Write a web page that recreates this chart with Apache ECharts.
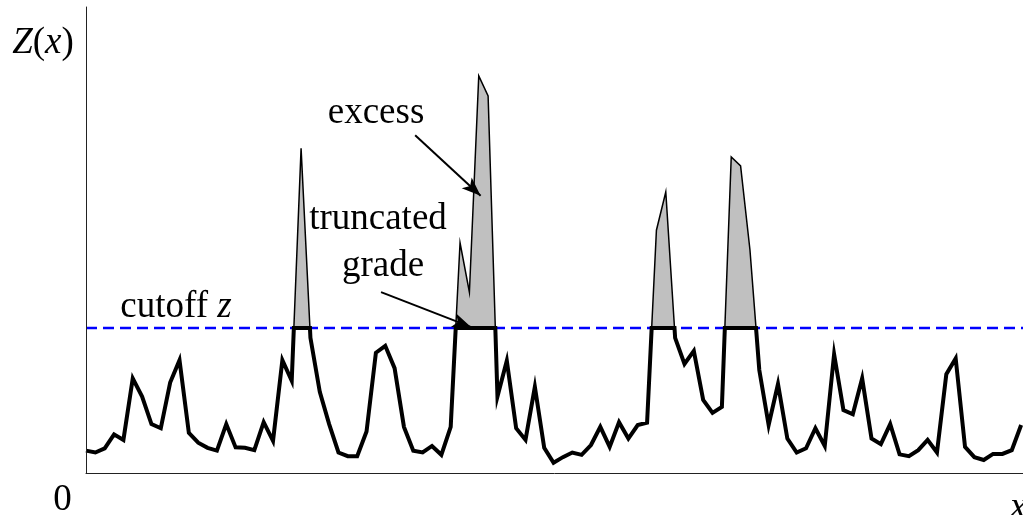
<!DOCTYPE html>
<html>
<head>
<meta charset="utf-8">
<script src="https://cdn.jsdelivr.net/npm/echarts@6/dist/echarts.min.js"></script>
<style>
html,body{margin:0;padding:0;background:#fff;}
#chart{width:1023px;height:515px;}
</style>
</head>
<body>
<div id="chart"></div>
<script>
// Grade values Z(x) at evenly spaced sample positions x = 0..100
const grades = [
  0.48, 0.44, 0.53, 0.83, 0.71, 2.03, 1.64, 1.05, 0.96, 1.94,
  2.42, 0.86, 0.65, 0.54, 0.48, 1.05, 0.55, 0.54, 0.49, 1.09,
  0.69, 2.42, 1.98, 6.97, 2.90, 1.74, 1.05, 0.44, 0.36, 0.36,
  0.89, 2.58, 2.73, 2.25, 0.99, 0.48, 0.44, 0.58, 0.39, 0.99,
  4.94, 3.88, 8.52, 8.09, 1.64, 2.41, 0.96, 0.71, 1.85, 0.54,
  0.22, 0.34, 0.44, 0.39, 0.60, 0.99, 0.56, 1.09, 0.74, 1.03,
  1.08, 5.21, 6.03, 2.90, 2.34, 2.62, 1.57, 1.29, 1.42, 6.78,
  6.59, 4.79, 2.21, 1.03, 1.91, 0.74, 0.44, 0.53, 0.96, 0.58,
  2.55, 1.35, 1.26, 2.03, 0.74, 0.62, 1.05, 0.40, 0.36, 0.49,
  0.71, 0.44, 2.12, 2.46, 0.56, 0.34, 0.28, 0.41, 0.41, 0.49,
  1.03
];
const cutoff = 3.11;
const xRange = [0, 100.2];
const yRange = [0, 10];
// annotation arrows [start, end] in data units
const excessArrow = [[35.2, 7.25], [42.2, 5.95]];
const truncArrow = [[31.55, 3.88], [41.2, 3.13]];

// build truncated path and excess segments (crossings computed from data)
const trunc = [];
const excessSegs = [];
let cur = null;
for (let i = 0; i < grades.length; i++) {
  const v = grades[i];
  if (i > 0) {
    const p = grades[i - 1];
    if ((p - cutoff) * (v - cutoff) < 0) {
      const xc = i - 1 + (cutoff - p) / (v - p);
      trunc.push([xc, cutoff]);
      if (v > cutoff) { cur = [[xc, cutoff]]; }
      else { cur.push([xc, cutoff]); excessSegs.push(cur); cur = null; }
    }
  }
  trunc.push([i, Math.min(v, cutoff)]);
  if (v > cutoff && cur) cur.push([i, v]);
}

const serif = '"Liberation Serif", "DejaVu Serif", serif';
const FS = 37;

const series = [];
excessSegs.forEach(seg => {
  series.push({
    type: 'line', data: seg, symbol: 'none', z: 2, silent: true,
    lineStyle: { color: '#000', width: 1.5, join: 'miter' },
    areaStyle: { color: '#c0c0c0', opacity: 1, origin: cutoff }
  });
});
// cutoff level line
series.push({
  type: 'line', data: [[xRange[0], cutoff], [xRange[1], cutoff]], symbol: 'none', z: 3, silent: true,
  lineStyle: { color: '#0000ff', width: 2.5, type: [11, 6] }
});
series.push({
  type: 'line', data: trunc, symbol: 'none', z: 4, silent: true,
  lineStyle: { color: '#000', width: 4, join: 'miter' }
});
series.push({
  type: 'line', data: [], z: 5, silent: true,
  markLine: {
    silent: true, animation: false,
    symbol: ['none', 'arrow'], symbolSize: [11, 19],
    label: { show: false },
    lineStyle: { color: '#000', width: 2, type: 'solid' },
    data: [
      [{ coord: excessArrow[0] }, { coord: excessArrow[1] }],
      [{ coord: truncArrow[0] }, { coord: truncArrow[1] }]
    ]
  }
});

function txt(text, x, y, align, rich) {
  return {
    type: 'text', x: x, y: y, silent: true,
    style: {
      text: text, fill: '#000', font: FS + 'px ' + serif,
      fontFamily: serif, fontSize: FS,
      align: align, textAlign: align,
      verticalAlign: 'middle', textVerticalAlign: 'middle',
      rich: rich
    }
  };
}
const richIt = {
  i: { fontFamily: serif, fontSize: FS, fontStyle: 'italic', fill: '#000' },
  n: { fontFamily: serif, fontSize: FS, fill: '#000' }
};

const chart = echarts.init(document.getElementById('chart'), null, { renderer: 'canvas' });
chart.setOption({
  animation: false,
  backgroundColor: '#fff',
  grid: { left: 86, right: 0, top: 7, bottom: 42 },
  xAxis: {
    type: 'value', min: xRange[0], max: xRange[1], z: 10,
    axisLine: { show: true, onZero: false, lineStyle: { color: '#222', width: 1 } },
    axisTick: { show: false }, axisLabel: { show: false }, splitLine: { show: false }
  },
  yAxis: {
    type: 'value', min: yRange[0], max: yRange[1], z: 10,
    axisLine: { show: true, lineStyle: { color: '#222', width: 1 } },
    axisTick: { show: false }, axisLabel: { show: false }, splitLine: { show: false }
  },
  series: series,
  graphic: [
    txt('{i|Z}{n|(}{i|x}{n|)}', 43, 43, 'center', richIt),
    txt('0', 62.5, 500, 'center'),
    txt('{i|x}', 1010, 508, 'left', richIt),
    txt('excess', 376, 113, 'center'),
    txt('truncated', 378, 219, 'center'),
    txt('grade', 383, 266, 'center'),
    txt('{n|cutoff }{i|z}', 176, 307, 'center', richIt)
  ]
});
</script>
</body>
</html>
